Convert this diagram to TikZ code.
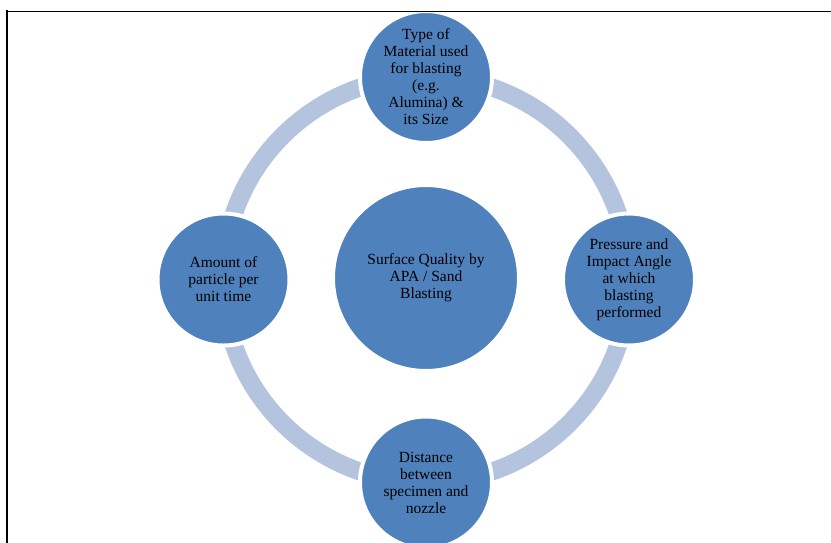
\documentclass[tikz,border=0pt]{standalone}
\usepackage{fontspec}
\setmainfont{Liberation Serif}
\definecolor{cfill}{HTML}{4F81BD}
\definecolor{cring}{HTML}{B4C4DF}
\tikzset{
  bub/.style={circle, fill=cfill, draw=white, line width=4pt, minimum size=132pt, inner sep=0pt, align=center, text=black, font=\fontsize{15.5}{17}\selectfont},
  hub/.style={bub, minimum size=186pt},
  ringline/.style={cring, line width=18pt},
  frame/.style={black, line cap=rect}
}
\begin{document}
\begin{tikzpicture}[x=1pt,y=-1pt]
\useasboundingbox (0,0) rectangle (831,542);
\coordinate (ctr) at (426,279.5);
\coordinate (fa) at (7,542);
\coordinate (fb) at (7,11.5);
\coordinate (fc) at (830,11.5);
\draw[ringline] (ctr) circle (203);
\node[hub] (c) at (426,278) {Surface Quality by\\APA / Sand\\Blasting};
\node[bub] (t) at (426,77) {Type of\\Material used\\for blasting\\(e.g.\\Alumina) \&\\its Size};
\node[bub] (r) at (629,279.5) {Pressure and\\Impact Angle\\at which\\blasting\\performed};
\node[bub] (b) at (426,482.5) {Distance\\between\\specimen and\\nozzle};
\node[bub] (l) at (223.5,279.5) {Amount of\\particle per\\unit time};
\draw[frame, line width=2.2pt] (fa) -- (fb);
\draw[frame, line width=1.2pt] (fb) -- (fc);
\end{tikzpicture}
\end{document}
